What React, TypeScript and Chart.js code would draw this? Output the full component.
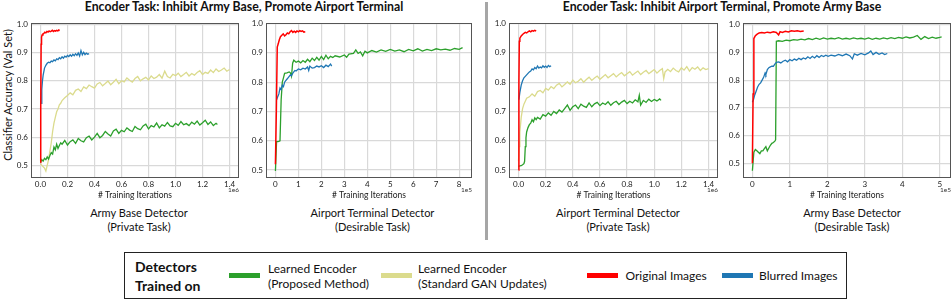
import React, { useEffect, useRef } from 'react';
import { Chart, registerables } from 'chart.js';

Chart.register(...registerables);

const FONT = 'Lato, "Noto Sans", sans-serif';
Chart.defaults.font.family = FONT;

// ---------- Data (accuracy vs training iterations) ----------
// Panel 1: Army Base Detector (Private Task), x in 1e6
const p1Red: [number, number][] = [
  [0, 0.51], [0.002, 0.7], [0.005, 0.93], [0.008, 0.955], [0.012, 0.962], [0.018, 0.966], [0.025, 0.968],
  [0.032, 0.972], [0.04, 0.97], [0.048, 0.975], [0.056, 0.973], [0.064, 0.977], [0.072, 0.974], [0.08, 0.976],
  [0.088, 0.979], [0.096, 0.975], [0.104, 0.978], [0.112, 0.976], [0.12, 0.979], [0.128, 0.977], [0.136, 0.98], [0.142, 0.978],
];
const p1Blue: [number, number][] = [
  [0.005, 0.72], [0.01, 0.77], [0.015, 0.8], [0.02, 0.82], [0.03, 0.845], [0.04, 0.855], [0.05, 0.862], [0.06, 0.866],
  [0.07, 0.864], [0.08, 0.87], [0.09, 0.868], [0.1, 0.874], [0.11, 0.871], [0.12, 0.878], [0.13, 0.875], [0.14, 0.882],
  [0.15, 0.878], [0.16, 0.885], [0.17, 0.88], [0.18, 0.887], [0.19, 0.884], [0.2, 0.89], [0.21, 0.886], [0.22, 0.892],
  [0.23, 0.887], [0.24, 0.894], [0.25, 0.889], [0.26, 0.896], [0.27, 0.89], [0.28, 0.899], [0.29, 0.888], [0.3, 0.907],
  [0.31, 0.892], [0.32, 0.901], [0.33, 0.893], [0.34, 0.898], [0.35, 0.894], [0.36, 0.896],
];
const p1Gan: [number, number][] = [
  [0, 0.505], [0.01, 0.5], [0.02, 0.495], [0.03, 0.49], [0.04, 0.48], [0.05, 0.5], [0.06, 0.52], [0.07, 0.55],
  [0.08, 0.58], [0.09, 0.62], [0.1, 0.65], [0.11, 0.67], [0.12, 0.69], [0.13, 0.7], [0.14, 0.715], [0.15, 0.72],
  [0.16, 0.73], [0.18, 0.74], [0.2, 0.748], [0.22, 0.757], [0.24, 0.75], [0.26, 0.766], [0.28, 0.771], [0.3, 0.762],
  [0.32, 0.778], [0.34, 0.772], [0.36, 0.785], [0.38, 0.779], [0.4, 0.774], [0.42, 0.789], [0.44, 0.794], [0.46, 0.782],
  [0.48, 0.79], [0.5, 0.799], [0.52, 0.786], [0.54, 0.795], [0.56, 0.805], [0.58, 0.79], [0.6, 0.8], [0.62, 0.796],
  [0.64, 0.81], [0.66, 0.802], [0.68, 0.795], [0.7, 0.808], [0.72, 0.815], [0.74, 0.8], [0.76, 0.807], [0.78, 0.812],
  [0.8, 0.803], [0.82, 0.817], [0.84, 0.808], [0.86, 0.813], [0.88, 0.822], [0.9, 0.809], [0.92, 0.834], [0.94, 0.815],
  [0.96, 0.81], [0.98, 0.823], [1.0, 0.818], [1.02, 0.827], [1.04, 0.815], [1.06, 0.822], [1.08, 0.83], [1.1, 0.817],
  [1.12, 0.826], [1.14, 0.82], [1.16, 0.829], [1.18, 0.836], [1.2, 0.822], [1.22, 0.83], [1.24, 0.826], [1.26, 0.838],
  [1.28, 0.829], [1.3, 0.842], [1.32, 0.833], [1.34, 0.838], [1.36, 0.845], [1.38, 0.834], [1.4, 0.84],
];
const p1Ours: [number, number][] = [
  [0, 0.51], [0.01, 0.52], [0.02, 0.515], [0.03, 0.525], [0.04, 0.52], [0.05, 0.53], [0.06, 0.522], [0.07, 0.535],
  [0.08, 0.545], [0.09, 0.54], [0.1, 0.565], [0.11, 0.555], [0.12, 0.575], [0.13, 0.56], [0.14, 0.57], [0.15, 0.58],
  [0.16, 0.575], [0.18, 0.588], [0.2, 0.572], [0.22, 0.584], [0.24, 0.59], [0.26, 0.578], [0.28, 0.595], [0.3, 0.587],
  [0.32, 0.583], [0.34, 0.598], [0.36, 0.604], [0.38, 0.59], [0.4, 0.6], [0.42, 0.613], [0.44, 0.598], [0.46, 0.606],
  [0.48, 0.62], [0.5, 0.611], [0.52, 0.604], [0.54, 0.622], [0.56, 0.628], [0.58, 0.613], [0.6, 0.624], [0.62, 0.619],
  [0.64, 0.633], [0.66, 0.625], [0.68, 0.62], [0.7, 0.638], [0.72, 0.63], [0.74, 0.626], [0.76, 0.64], [0.78, 0.646],
  [0.8, 0.629], [0.82, 0.641], [0.84, 0.636], [0.86, 0.65], [0.88, 0.633], [0.9, 0.644], [0.92, 0.639], [0.94, 0.652],
  [0.96, 0.64], [0.98, 0.637], [1.0, 0.649], [1.02, 0.642], [1.04, 0.655], [1.06, 0.644], [1.08, 0.648], [1.1, 0.641],
  [1.12, 0.653], [1.14, 0.646], [1.16, 0.657], [1.18, 0.643], [1.2, 0.651], [1.22, 0.66], [1.24, 0.645], [1.26, 0.654],
  [1.28, 0.641], [1.3, 0.649], [1.31, 0.645],
];

// Panel 2: Airport Terminal Detector (Desirable Task), x in 1e5
const p2Red: [number, number][] = [
  [0, 0.52], [0.04, 0.7], [0.08, 0.92], [0.12, 0.93], [0.17, 0.945], [0.22, 0.955], [0.28, 0.96], [0.34, 0.965],
  [0.4, 0.958], [0.46, 0.962], [0.52, 0.968], [0.58, 0.965], [0.64, 0.972], [0.7, 0.976], [0.76, 0.97], [0.82, 0.974],
  [0.88, 0.97], [0.94, 0.975], [1.0, 0.972], [1.06, 0.976], [1.12, 0.973], [1.18, 0.975], [1.24, 0.971], [1.3, 0.972],
];
const p2Blue: [number, number][] = [
  [0.05, 0.74], [0.1, 0.75], [0.15, 0.76], [0.2, 0.78], [0.25, 0.775], [0.3, 0.79], [0.35, 0.785], [0.4, 0.8],
  [0.45, 0.805], [0.5, 0.81], [0.55, 0.815], [0.6, 0.82], [0.65, 0.825], [0.7, 0.822], [0.75, 0.83], [0.8, 0.835],
  [0.85, 0.84], [0.9, 0.838], [0.95, 0.842], [1.0, 0.845], [1.1, 0.842], [1.2, 0.848], [1.3, 0.845], [1.4, 0.852],
  [1.45, 0.84], [1.5, 0.855], [1.6, 0.848], [1.7, 0.85], [1.8, 0.855], [1.9, 0.852], [2.0, 0.856], [2.1, 0.85],
  [2.2, 0.858], [2.3, 0.853], [2.4, 0.862], [2.45, 0.855],
];
const p2Ours: [number, number][] = [
  [0, 0.497], [0.05, 0.597], [0.1, 0.597], [0.15, 0.598], [0.2, 0.6], [0.25, 0.74], [0.3, 0.8], [0.35, 0.815],
  [0.4, 0.83], [0.5, 0.832], [0.6, 0.835], [0.65, 0.832], [0.7, 0.82], [0.75, 0.865], [0.8, 0.875], [0.9, 0.868],
  [1.0, 0.872], [1.1, 0.866], [1.2, 0.874], [1.3, 0.868], [1.4, 0.878], [1.5, 0.87], [1.6, 0.882], [1.7, 0.874],
  [1.8, 0.885], [1.9, 0.875], [2.0, 0.888], [2.1, 0.877], [2.2, 0.892], [2.3, 0.88], [2.4, 0.888], [2.5, 0.884],
  [2.6, 0.89], [2.8, 0.886], [3.0, 0.893], [3.1, 0.885], [3.2, 0.896], [3.4, 0.898], [3.5, 0.91], [3.6, 0.898],
  [3.7, 0.903], [3.8, 0.89], [3.9, 0.906], [4.0, 0.9], [4.2, 0.908], [4.4, 0.903], [4.6, 0.91], [4.8, 0.905],
  [5.0, 0.912], [5.2, 0.906], [5.4, 0.91], [5.6, 0.904], [5.8, 0.912], [6.0, 0.907], [6.2, 0.914], [6.4, 0.906],
  [6.6, 0.912], [6.8, 0.908], [7.0, 0.914], [7.2, 0.91], [7.4, 0.913], [7.6, 0.909], [7.8, 0.915], [8.0, 0.912], [8.15, 0.918],
];

// Panel 3: Airport Terminal Detector (Private Task), x in 1e6
const p3Red: [number, number][] = [
  [0, 0.5], [0.003, 0.8], [0.006, 0.94], [0.01, 0.95], [0.02, 0.958], [0.03, 0.963], [0.04, 0.967], [0.05, 0.97],
  [0.06, 0.968], [0.07, 0.972], [0.08, 0.975], [0.09, 0.972], [0.1, 0.976], [0.11, 0.974], [0.12, 0.977], [0.13, 0.974],
];
const p3Blue: [number, number][] = [
  [0.003, 0.74], [0.01, 0.765], [0.02, 0.79], [0.03, 0.805], [0.04, 0.815], [0.05, 0.82], [0.06, 0.825], [0.07, 0.83],
  [0.08, 0.835], [0.09, 0.838], [0.1, 0.845], [0.11, 0.842], [0.12, 0.85], [0.13, 0.846], [0.14, 0.855], [0.15, 0.848],
  [0.16, 0.852], [0.17, 0.849], [0.18, 0.856], [0.19, 0.851], [0.2, 0.855], [0.21, 0.85], [0.22, 0.857], [0.23, 0.853], [0.24, 0.856],
];
const p3Gan: [number, number][] = [
  [0, 0.53], [0.005, 0.58], [0.01, 0.63], [0.02, 0.68], [0.03, 0.71], [0.04, 0.725], [0.05, 0.735], [0.06, 0.745],
  [0.08, 0.75], [0.1, 0.76], [0.12, 0.752], [0.14, 0.768], [0.16, 0.772], [0.18, 0.764], [0.2, 0.779], [0.22, 0.773],
  [0.24, 0.785], [0.26, 0.778], [0.28, 0.79], [0.3, 0.796], [0.32, 0.784], [0.34, 0.792], [0.36, 0.801], [0.38, 0.793],
  [0.4, 0.807], [0.42, 0.798], [0.44, 0.803], [0.46, 0.812], [0.48, 0.8], [0.5, 0.809], [0.52, 0.817], [0.54, 0.806],
  [0.56, 0.814], [0.58, 0.821], [0.6, 0.81], [0.62, 0.818], [0.64, 0.826], [0.66, 0.815], [0.68, 0.822], [0.7, 0.829],
  [0.72, 0.818], [0.74, 0.826], [0.76, 0.833], [0.78, 0.822], [0.8, 0.829], [0.82, 0.836], [0.84, 0.824], [0.86, 0.831],
  [0.88, 0.838], [0.9, 0.826], [0.92, 0.834], [0.94, 0.84], [0.96, 0.829], [0.98, 0.836], [1.0, 0.843], [1.02, 0.831],
  [1.04, 0.84], [1.06, 0.846], [1.07, 0.812], [1.08, 0.835], [1.1, 0.844], [1.12, 0.836], [1.14, 0.848], [1.16, 0.84],
  [1.18, 0.835], [1.2, 0.849], [1.22, 0.841], [1.24, 0.853], [1.26, 0.838], [1.28, 0.85], [1.3, 0.844], [1.32, 0.852],
  [1.34, 0.84], [1.36, 0.849], [1.38, 0.843], [1.4, 0.846],
];
const p3Ours: [number, number][] = [
  [0, 0.513], [0.01, 0.514], [0.02, 0.515], [0.03, 0.518], [0.04, 0.522], [0.045, 0.53], [0.05, 0.58], [0.055, 0.61],
  [0.06, 0.63], [0.07, 0.645], [0.08, 0.655], [0.09, 0.66], [0.1, 0.672], [0.11, 0.665], [0.12, 0.678], [0.13, 0.672],
  [0.14, 0.68], [0.16, 0.674], [0.18, 0.689], [0.2, 0.684], [0.22, 0.695], [0.24, 0.687], [0.26, 0.7], [0.28, 0.693],
  [0.3, 0.705], [0.32, 0.698], [0.34, 0.71], [0.36, 0.722], [0.38, 0.704], [0.4, 0.716], [0.42, 0.722], [0.44, 0.71],
  [0.46, 0.725], [0.48, 0.718], [0.5, 0.714], [0.52, 0.729], [0.54, 0.716], [0.56, 0.726], [0.58, 0.731], [0.6, 0.72],
  [0.62, 0.729], [0.64, 0.724], [0.66, 0.733], [0.68, 0.721], [0.7, 0.73], [0.72, 0.735], [0.74, 0.724], [0.76, 0.732],
  [0.78, 0.738], [0.8, 0.727], [0.82, 0.735], [0.84, 0.729], [0.86, 0.74], [0.88, 0.733], [0.89, 0.755], [0.9, 0.722],
  [0.92, 0.738], [0.94, 0.731], [0.96, 0.742], [0.98, 0.734], [1.0, 0.741], [1.02, 0.736], [1.04, 0.743], [1.05, 0.738],
];

// Panel 4: Army Base Detector (Desirable Task), x in 1e5
const p4Red: [number, number][] = [
  [0, 0.5], [0.02, 0.75], [0.04, 0.95], [0.08, 0.96], [0.12, 0.965], [0.18, 0.97], [0.25, 0.972], [0.32, 0.97],
  [0.4, 0.973], [0.48, 0.971], [0.56, 0.974], [0.64, 0.972], [0.7, 0.963], [0.74, 0.975], [0.8, 0.972], [0.88, 0.976],
  [0.96, 0.974], [1.04, 0.978], [1.12, 0.976], [1.2, 0.978], [1.28, 0.975], [1.37, 0.977],
];
const p4Blue: [number, number][] = [
  [0, 0.72], [0.03, 0.73], [0.06, 0.745], [0.1, 0.76], [0.14, 0.775], [0.18, 0.785], [0.22, 0.79], [0.26, 0.8],
  [0.3, 0.81], [0.34, 0.826], [0.36, 0.82], [0.4, 0.838], [0.44, 0.845], [0.48, 0.848], [0.52, 0.85], [0.56, 0.85],
  [0.6, 0.858], [0.64, 0.864], [0.7, 0.866], [0.76, 0.862], [0.82, 0.868], [0.88, 0.872], [0.94, 0.866], [1.0, 0.874],
  [1.06, 0.87], [1.12, 0.876], [1.18, 0.872], [1.24, 0.879], [1.3, 0.874], [1.36, 0.88], [1.42, 0.876], [1.48, 0.884],
  [1.54, 0.878], [1.6, 0.886], [1.66, 0.88], [1.72, 0.888], [1.78, 0.882], [1.84, 0.889], [1.9, 0.885], [1.96, 0.89],
  [2.02, 0.886], [2.1, 0.89], [2.2, 0.887], [2.3, 0.893], [2.4, 0.888], [2.5, 0.894], [2.6, 0.888], [2.67, 0.876],
  [2.72, 0.895], [2.8, 0.89], [2.9, 0.896], [3.0, 0.891], [3.1, 0.898], [3.16, 0.905], [3.22, 0.892], [3.3, 0.9],
  [3.38, 0.893], [3.46, 0.898], [3.53, 0.892], [3.6, 0.896],
];
const p4Ours: [number, number][] = [
  [0, 0.473], [0.04, 0.54], [0.08, 0.55], [0.12, 0.545], [0.16, 0.54], [0.2, 0.535], [0.24, 0.545], [0.28, 0.545],
  [0.32, 0.553], [0.36, 0.56], [0.4, 0.545], [0.44, 0.555], [0.48, 0.565], [0.52, 0.572], [0.56, 0.575], [0.6, 0.58],
  [0.62, 0.585], [0.64, 0.94], [0.7, 0.942], [0.8, 0.94], [0.9, 0.944], [1.0, 0.942], [1.1, 0.946], [1.2, 0.944],
  [1.3, 0.948], [1.4, 0.945], [1.5, 0.95], [1.6, 0.946], [1.7, 0.951], [1.8, 0.947], [1.9, 0.952], [2.0, 0.948],
  [2.1, 0.951], [2.2, 0.949], [2.3, 0.953], [2.4, 0.948], [2.5, 0.951], [2.6, 0.948], [2.7, 0.952], [2.8, 0.949],
  [2.9, 0.951], [3.0, 0.948], [3.1, 0.952], [3.2, 0.947], [3.3, 0.951], [3.4, 0.948], [3.5, 0.952], [3.6, 0.949],
  [3.7, 0.953], [3.8, 0.95], [3.9, 0.954], [4.0, 0.951], [4.1, 0.956], [4.2, 0.952], [4.3, 0.955], [4.4, 0.961],
  [4.5, 0.947], [4.6, 0.957], [4.7, 0.95], [4.8, 0.955], [4.9, 0.951], [5.0, 0.954], [5.05, 0.956],
];

// Tick labels
const yTicks = [0.5, 0.6, 0.7, 0.8, 0.9, 1.0];
const xTicksE6 = [0, 0.2, 0.4, 0.6, 0.8, 1.0, 1.2, 1.4];
const xTicksP2 = [0, 1, 2, 3, 4, 5, 6, 7, 8];
const xTicksP4 = [0, 1, 2, 3, 4, 5];

// Text
const titleLeft = 'Encoder Task: Inhibit Army Base, Promote Airport Terminal';
const titleRight = 'Encoder Task: Inhibit Airport Terminal, Promote Army Base';
const yAxisTitle = 'Classifier Accuracy (Val Set)';
const subtitles = [
  ['Army Base Detector', '(Private Task)'],
  ['Airport Terminal Detector', '(Desirable Task)'],
  ['Airport Terminal Detector', '(Private Task)'],
  ['Army Base Detector', '(Desirable Task)'],
];
const legendItems = [
  { label: ['Learned Encoder', '(Proposed Method)'], key: 'ours' },
  { label: ['Learned Encoder', '(Standard GAN Updates)'], key: 'gan' },
  { label: ['Original Images'], key: 'red' },
  { label: ['Blurred Images'], key: 'blue' },
];

const COLORS: Record<string, string> = {
  ours: '#2ca02c',
  gan: '#dbdb8d',
  red: '#ff0000',
  blue: '#1f77b4',
};

type Series = { data: [number, number][]; key: string };

type PanelProps = {
  left: number;
  yAxisW: number;
  boxW: number;
  rightPad: number;
  series: Series[];
  xMin: number;
  xMax: number;
  yMin: number;
  yMax: number;
  xTicks: number[];
  xDecimals: number;
  exponent: string;
};

const CANVAS_H = 200;

function Panel(p: PanelProps) {
  const ref = useRef<HTMLCanvasElement | null>(null);
  const width = p.yAxisW + p.boxW + p.rightPad;
  useEffect(() => {
    if (!ref.current) return;
    const framePlugin = {
      id: 'frameAndExponent',
      afterDatasetsDraw(chart: any) {
        const { ctx, chartArea: a } = chart;
        ctx.save();
        ctx.strokeStyle = '#555555';
        ctx.lineWidth = 1;
        ctx.strokeRect(Math.round(a.left) + 0.5, Math.round(a.top) + 0.5, Math.round(a.right - a.left) - 1, Math.round(a.bottom - a.top) - 1);
        ctx.fillStyle = '#333333';
        ctx.font = `6.5px ${FONT}`;
        ctx.textAlign = 'right';
        ctx.textBaseline = 'middle';
        ctx.fillText(p.exponent, a.right, a.bottom + 12);
        ctx.restore();
      },
    };
    const chart = new Chart(ref.current, {
      type: 'scatter',
      data: {
        datasets: p.series.map((s) => ({
          data: s.data.map(([x, y]) => ({ x, y })),
          borderColor: COLORS[s.key],
          backgroundColor: COLORS[s.key],
          borderWidth: s.key === 'red' ? 1.5 : 1.3,
          showLine: true,
          pointRadius: 0,
          tension: 0,
          fill: false,
        })),
      },
      options: {
        responsive: false,
        animation: false,
        devicePixelRatio: 1,
        layout: { padding: { left: 0, right: p.rightPad, top: 23, bottom: 0 } },
        plugins: { legend: { display: false }, tooltip: { enabled: false }, title: { display: false } },
        scales: {
          x: {
            type: 'linear',
            min: p.xMin,
            max: p.xMax,
            afterBuildTicks: (s: any) => {
              s.ticks = p.xTicks.map((v) => ({ value: v }));
            },
            afterFit: (s: any) => {
              s.height = 22;
            },
            grid: { color: '#d9d9d9', lineWidth: 1.2, drawTicks: false },
            border: { display: false },
            ticks: {
              color: '#222',
              font: { size: 8 },
              padding: 1.5,
              maxRotation: 0,
              autoSkip: false,
              callback: (v: any) => Number(v).toFixed(p.xDecimals),
            },
            title: { display: true, text: '# Training Iterations', color: '#222', font: { size: 8.5 }, padding: { top: 0, bottom: 0 } },
          },
          y: {
            type: 'linear',
            min: p.yMin,
            max: p.yMax,
            afterBuildTicks: (s: any) => {
              s.ticks = yTicks.map((v) => ({ value: v }));
            },
            afterFit: (s: any) => {
              s.width = p.yAxisW;
            },
            grid: { color: '#d9d9d9', lineWidth: 1.2, drawTicks: false },
            border: { display: false },
            ticks: {
              color: '#222',
              font: { size: 8 },
              padding: 3,
              autoSkip: false,
              callback: (v: any) => Number(v).toFixed(1),
            },
          },
        },
      },
      plugins: [framePlugin],
    } as any);
    return () => chart.destroy();
  }, []);
  return (
    <canvas
      ref={ref}
      width={width}
      height={CANVAS_H}
      style={{ position: 'absolute', left: p.left, top: 0, width, height: CANVAS_H }}
    />
  );
}

const textBase: React.CSSProperties = { position: 'absolute', fontFamily: FONT, color: '#111', whiteSpace: 'nowrap' };

export default function App() {
  const subCenters = [139, 372.5, 618, 852];
  return (
    <div style={{ position: 'absolute', left: 0, top: 0, width: 952, height: 300, background: '#fff', overflow: 'hidden' }}>
      <div style={{ ...textBase, left: 244 - 250, width: 500, top: 0, textAlign: 'center', fontWeight: 700, fontSize: 12.3, lineHeight: '13px' }}>
        {titleLeft}
      </div>
      <div style={{ ...textBase, left: 722 - 250, width: 500, top: 0, textAlign: 'center', fontWeight: 700, fontSize: 12.3, lineHeight: '13px' }}>
        {titleRight}
      </div>
      <div style={{ position: 'absolute', left: 484.5, top: 2, width: 3, height: 238, background: '#a6a6a6' }} />

      <div style={{ ...textBase, left: 8 - 80, top: 95 - 7, width: 160, height: 14, lineHeight: '14px', textAlign: 'center', fontSize: 11, transform: 'rotate(-90deg)', transformOrigin: '50% 50%' }}>
        {yAxisTitle}
      </div>

      <Panel left={0} yAxisW={31} boxW={208} rightPad={4} xMin={-0.07} xMax={1.47} yMin={0.455} yMax={1.005}
        xTicks={xTicksE6} xDecimals={1} exponent="1e6"
        series={[{ data: p1Red, key: 'red' }, { data: p1Blue, key: 'blue' }, { data: p1Ours, key: 'ours' }, { data: p1Gan, key: 'gan' }]} />
      <Panel left={236} yAxisW={30} boxW={206} rightPad={4} xMin={-0.41} xMax={8.56} yMin={0.473} yMax={1.002}
        xTicks={xTicksP2} xDecimals={0} exponent="1e5"
        series={[{ data: p2Red, key: 'red' }, { data: p2Blue, key: 'blue' }, { data: p2Ours, key: 'ours' }]} />
      <Panel left={479} yAxisW={30} boxW={209} rightPad={4} xMin={-0.07} xMax={1.47} yMin={0.473} yMax={1.002}
        xTicks={xTicksE6} xDecimals={1} exponent="1e6"
        series={[{ data: p3Red, key: 'red' }, { data: p3Blue, key: 'blue' }, { data: p3Ours, key: 'ours' }, { data: p3Gan, key: 'gan' }]} />
      <Panel left={713} yAxisW={30} boxW={208} rightPad={1} xMin={-0.25} xMax={5.3} yMin={0.447} yMax={1.006}
        xTicks={xTicksP4} xDecimals={0} exponent="1e5"
        series={[{ data: p4Red, key: 'red' }, { data: p4Blue, key: 'blue' }, { data: p4Ours, key: 'ours' }]} />

      {subtitles.map((lines, i) => (
        <div key={i} style={{ ...textBase, left: subCenters[i] - 100, width: 200, top: 206, textAlign: 'center', fontSize: 11, lineHeight: '13.5px' }}>
          {lines[0]}
          <br />
          {lines[1]}
        </div>
      ))}

      <div style={{ position: 'absolute', left: 124, top: 252, width: 723, height: 46.5, border: '1.5px solid #222', boxSizing: 'border-box' }} />
      <div style={{ ...textBase, left: 135, top: 256.5, fontWeight: 700, fontSize: 14, lineHeight: '19px' }}>
        Detectors
        <br />
        Trained on
      </div>
      {legendItems.map((it, i) => {
        const swatchX = [229, 381, 587, 721.5][i];
        const textX = [268, 418, 625.5, 759][i];
        const two = it.label.length > 1;
        return (
          <React.Fragment key={it.key}>
            <div style={{ position: 'absolute', left: swatchX, top: 273, width: 31, height: 5, background: COLORS[it.key] }} />
            <div style={{ ...textBase, left: textX, top: two ? 260.5 : 268, fontSize: 12, lineHeight: '15px' }}>
              {it.label[0]}
              {two ? <br /> : null}
              {two ? it.label[1] : null}
            </div>
          </React.Fragment>
        );
      })}
    </div>
  );
}
